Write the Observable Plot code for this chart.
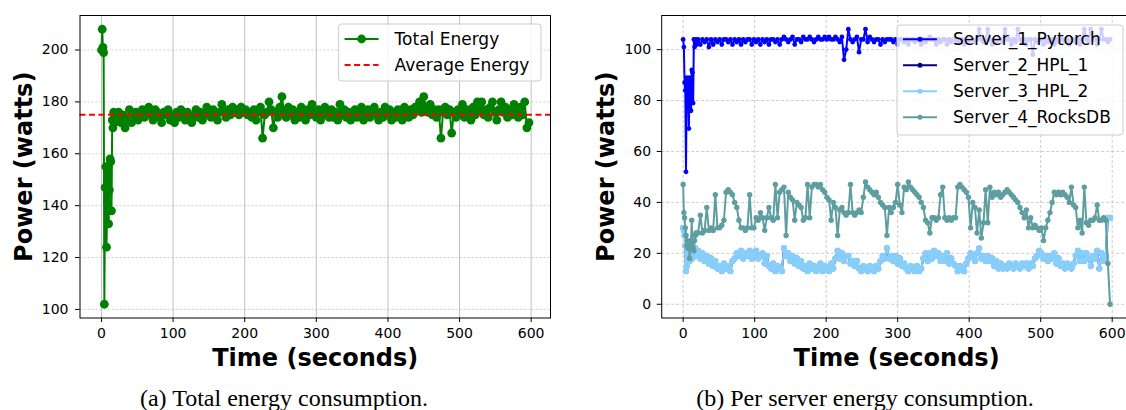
<!DOCTYPE html>
<html>
<head>
<meta charset="utf-8">
<script src="https://cdn.jsdelivr.net/npm/d3@7"></script>
<script src="https://cdn.jsdelivr.net/npm/@observablehq/plot@0.6"></script>
<style>
  html, body { margin: 0; padding: 0; background: #fff; width: 1126px; height: 410px; overflow: hidden; }
  .panel { position: absolute; top: 0; width: 560px; height: 372px; }
  .caption { position: absolute; top: 386px; font-family: "Liberation Serif", "Times New Roman", serif; font-size: 24px; line-height: 24px; white-space: nowrap; transform: translateX(-50%); color: #000; }
</style>
</head>
<body>
<div id="left" class="panel" style="left:0px"></div>
<div id="right" class="panel" style="left:580px"></div>
<div class="caption" style="left:284px">(a) Total energy consumption.</div>
<div class="caption" style="left:865px">(b) Per server energy consumption.</div>
<script>
// Sampling: one reading per second during start-up, then every 3 s.
const startTimes = [0,1,2,3,4,5,6,7,8,9,10,11,12,13,14,15,16,17,18,19];
const steadyTimes = d3.range(21, 598, 3);

const xTicks = [0, 100, 200, 300, 400, 500, 600];
const totalYTicks = [100, 120, 140, 160, 180, 200];
const serverYTicks = [0, 20, 40, 60, 80, 100];

// (a) Total energy, watts
const startTotal = [200,208,201,199,102,147,155,124,141,155,133,146,158,157,138,173,170,176,172,175];
const steadyTotal = [
  174,176,172,175,170,173,177,172,174,176,
  173,175,177,174,176,178,175,173,177,176,
  174,172,176,175,177,173,175,172,176,174,
  177,175,173,176,174,172,175,177,174,176,
  173,175,178,176,174,177,175,173,176,179,
  176,174,177,175,178,176,177,175,178,176,
  177,175,176,174,177,173,176,178,166,175,
  176,180,177,170,176,174,178,182,176,174,
  178,175,177,173,176,174,178,175,173,177,
  175,179,176,174,177,173,175,178,176,174,
  177,174,176,173,179,175,177,174,176,173,
  175,177,174,176,178,173,175,177,174,176,
  178,175,173,176,174,178,175,177,173,176,
  174,177,175,173,178,176,174,177,175,178,
  177,180,176,182,178,176,179,175,177,174,
  177,166,176,178,175,177,168,176,174,177,
  175,179,174,177,176,173,178,175,180,177,
  180,175,177,174,178,180,176,173,177,180,
  176,178,174,177,175,179,176,174,178,175,
  180,170,172
];
const averageEnergy = 175;

// (b) Per-server power, watts
const startPytorch = [104,101,87,84,52,89,88,84,69,89,80,76,92,91,79,104,101,103,104,102];
const steadyPytorch = [
  104,102,104,103,104,101,104,102,104,103,
  104,102,104,104,103,104,102,104,103,104,
  102,104,103,104,104,102,104,103,104,102,
  104,103,104,102,104,104,103,104,102,104,
  105,104,103,104,105,102,104,104,103,105,
  104,104,105,104,103,104,105,104,104,105,
  104,105,104,104,105,104,103,105,96,100,
  108,104,103,104,105,99,104,104,108,103,
  105,104,103,104,104,102,104,103,104,104,
  104,103,104,102,104,104,103,104,102,104,
  104,103,104,104,102,104,103,104,105,104,
  104,102,104,103,104,104,102,104,103,104,
  104,103,104,104,102,104,103,104,104,103,
  104,108,104,103,104,108,104,102,104,103,
  104,104,103,108,104,104,102,104,103,108,
  104,103,104,102,104,104,98,104,103,104,
  104,102,104,103,104,104,102,104,103,104,
  104,103,104,102,104,104,103,104,102,104,
  108,104,103,108,104,104,102,104,108,104,
  104,103,104
];

// HPL_1 and HPL_2 report the same readings
const startHpl = [30,29,27,23,13,15,20,22,21,17,19,21,20,18,21,19,20,22,20,19];
const steadyHpl = [
  21,18,20,17,19,16,18,15,17,14,
  15,13,16,14,15,13,17,18,20,19,
  21,18,20,19,21,18,20,21,18,19,
  20,16,19,15,14,16,13,15,14,13,
  22,19,20,17,19,16,18,15,17,14,
  15,13,16,14,15,13,14,16,13,15,
  14,13,16,14,18,21,18,20,17,19,
  19,16,17,15,17,14,13,15,14,13,
  15,14,13,15,14,17,19,18,22,18,
  19,17,19,16,18,15,16,14,13,15,
  14,13,15,13,14,18,20,17,20,18,
  21,19,20,17,19,17,20,16,18,16,
  15,13,15,14,13,16,18,20,19,17,
  20,22,18,19,17,19,17,18,15,17,
  14,16,14,15,14,16,15,14,16,15,
  14,16,15,16,14,16,15,18,19,21,
  20,18,19,17,19,18,20,16,18,15,
  16,14,16,15,14,16,19,21,17,20,
  17,20,18,15,19,18,21,14,20,17,
  19,34,34
];

const startRocks = [47,36,34,30,27,23,25,22,24,18,22,25,33,24,22,21,25,27,28,28];
const steadyRocks = [
  28,35,28,29,38,29,30,29,43,30,
  30,31,33,44,45,44,43,40,38,33,
  30,30,29,30,43,30,30,34,33,36,
  34,29,34,38,34,33,47,34,44,45,
  46,27,44,42,41,33,40,39,38,33,
  34,47,34,46,47,47,46,47,45,44,
  42,41,33,40,38,27,37,38,36,35,
  36,47,36,35,36,37,36,42,48,46,
  45,44,43,44,42,40,39,38,27,38,
  36,38,40,47,39,36,46,45,48,46,
  45,44,43,42,40,38,33,32,28,34,
  34,33,34,43,46,34,33,34,33,34,
  34,46,47,46,45,44,42,30,40,38,
  28,37,26,32,45,32,46,42,44,43,
  44,42,43,44,45,44,43,42,41,40,
  38,36,34,37,30,34,30,31,30,29,
  30,25,30,33,36,40,44,43,44,43,
  44,43,42,40,46,39,38,30,33,28,
  46,32,31,33,33,34,39,33,33,34,
  33,16,0
];

const times = [...startTimes, ...steadyTimes];
const rows = (values) => times.map((t, i) => ({t, power: values[i]}));

const totalRows = rows([...startTotal, ...steadyTotal]);
const hpl = [...startHpl, ...steadyHpl];
const servers = [
  {name: "Server_1_Pytorch", color: "blue", r: 2.4, data: rows([...startPytorch, ...steadyPytorch])},
  {name: "Server_2_HPL_1", color: "navy", r: 2.8, data: rows(hpl)},
  {name: "Server_3_HPL_2", color: "lightskyblue", r: 3.2, data: rows(hpl)},
  {name: "Server_4_RocksDB", color: "cadetblue", r: 2.7, data: rows([...startRocks, ...steadyRocks])}
];

const baseStyle = {fontFamily: "'DejaVu Sans', sans-serif", fontSize: "14px", color: "#000", background: "transparent", overflow: "visible"};

function axisTitles(dxY) {
  return [
    Plot.text(["Time (seconds)"], {text: d => d, frameAnchor: "bottom", lineAnchor: "middle", textAnchor: "middle", dy: 40, fontSize: 24, fontWeight: "bold", fill: "#000"}),
    Plot.text(["Power (watts)"], {text: d => d, frameAnchor: "left", lineAnchor: "middle", textAnchor: "middle", dx: dxY, rotate: -90, fontSize: 24, fontWeight: "bold", fill: "#000"})
  ];
}

function drawLegend(svg, box, entries, rowGap) {
  const g = d3.select(svg).append("g")
    .attr("font-family", "'DejaVu Sans', sans-serif")
    .attr("font-size", 17)
    .attr("text-anchor", "start");
  g.append("rect")
    .attr("x", box.x).attr("y", box.y)
    .attr("width", box.w).attr("height", box.h)
    .attr("rx", 3)
    .attr("fill", "#fff").attr("fill-opacity", 0.8)
    .attr("stroke", "#cccccc").attr("stroke-width", 1);
  entries.forEach((e, i) => {
    const cy = box.y + box.first + i * rowGap;
    const x0 = box.x + 6, x1 = x0 + 34;
    g.append("line")
      .attr("x1", x0).attr("x2", x1).attr("y1", cy).attr("y2", cy)
      .attr("stroke", e.color).attr("stroke-width", 2)
      .attr("stroke-dasharray", e.dash || null);
    if (e.r) g.append("circle").attr("cx", (x0 + x1) / 2).attr("cy", cy).attr("r", e.r).attr("fill", e.color);
    g.append("text").attr("x", x1 + 16).attr("y", cy + 6).attr("fill", "#000").text(e.label);
  });
}

// (a) Total energy consumption
const leftPlot = Plot.plot({
  width: 560, height: 372,
  marginLeft: 79.5, marginRight: 10, marginTop: 15, marginBottom: 54.5,
  style: baseStyle,
  x: {domain: [-30, 627]},
  y: {domain: [96.7, 213.3]},
  marks: [
    Plot.gridX({ticks: xTicks, stroke: "#b0b0b0", strokeOpacity: 0.8, strokeWidth: 1}),
    Plot.gridY({ticks: totalYTicks, stroke: "#b0b0b0", strokeOpacity: 0.8, strokeWidth: 0.8, strokeDasharray: "2,2"}),
    Plot.line(totalRows, {x: "t", y: "power", stroke: "green", strokeWidth: 2}),
    Plot.dot(totalRows, {x: "t", y: "power", fill: "green", r: 4.4}),
    Plot.ruleY([averageEnergy], {stroke: "red", strokeWidth: 2, strokeDasharray: "6,3.5"}),
    Plot.axisX({ticks: xTicks, tickSize: 4.5, tickPadding: 5.5, fontSize: 14, label: null}),
    Plot.axisY({ticks: totalYTicks, tickSize: 4.5, tickPadding: 7, fontSize: 14, label: null}),
    Plot.frame({stroke: "#000", strokeWidth: 1}),
    ...axisTitles(-56)
  ]
});
document.getElementById("left").append(leftPlot);
drawLegend(leftPlot, {x: 338.6, y: 24, w: 202.4, h: 57, first: 15}, [
  {label: "Total Energy", color: "green", r: 4.4},
  {label: "Average Energy", color: "red", dash: "6,3.5"}
], 26);

// (b) Per server energy consumption
const rightPlot = Plot.plot({
  width: 560, height: 372,
  marginLeft: 81.2, marginRight: 9, marginTop: 15, marginBottom: 54.5,
  style: baseStyle,
  x: {domain: [-30, 627]},
  y: {domain: [-5.4, 113.4]},
  marks: [
    Plot.gridX({ticks: xTicks, stroke: "#b0b0b0", strokeOpacity: 0.8, strokeWidth: 0.8, strokeDasharray: "3,2"}),
    Plot.gridY({ticks: serverYTicks, stroke: "#b0b0b0", strokeOpacity: 0.8, strokeWidth: 0.8, strokeDasharray: "3,2"}),
    ...servers.flatMap(s => [
      Plot.line(s.data, {x: "t", y: "power", stroke: s.color, strokeWidth: 2}),
      Plot.dot(s.data, {x: "t", y: "power", fill: s.color, r: s.r})
    ]),
    Plot.axisX({ticks: xTicks, tickSize: 4.5, tickPadding: 5.5, fontSize: 14, label: null}),
    Plot.axisY({ticks: serverYTicks, tickSize: 4.5, tickPadding: 6, fontSize: 14, label: null}),
    Plot.frame({stroke: "#000", strokeWidth: 1}),
    ...axisTitles(-55)
  ]
});
document.getElementById("right").append(rightPlot);
drawLegend(rightPlot, {x: 317, y: 25, w: 226, h: 110, first: 14.3},
  servers.map(s => ({label: s.name, color: s.color, r: 2.5})), 26);
</script>
</body>
</html>
